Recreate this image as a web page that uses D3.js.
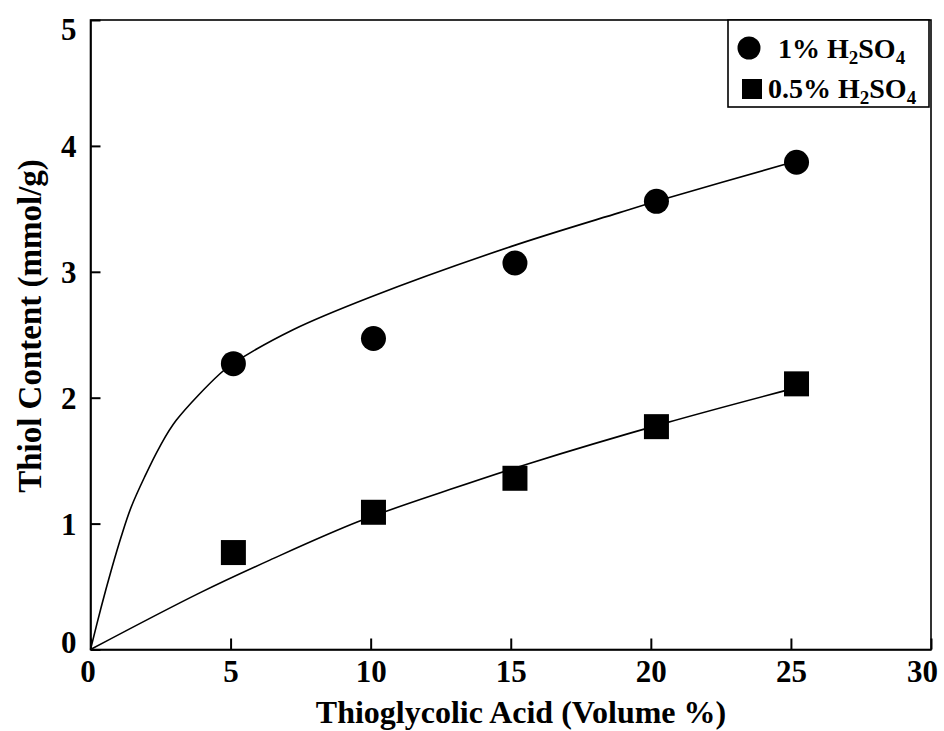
<!DOCTYPE html>
<html>
<head>
<meta charset="utf-8">
<script src="https://cdn.jsdelivr.net/npm/d3@7"></script>
<style>
  body { margin: 0; background: #fff; }
  svg text { font-family: "Liberation Serif", "Times New Roman", serif; font-weight: bold; fill: #000; }
</style>
</head>
<body>
<svg id="chart" width="944" height="731"></svg>
<script>
// measured data
var acidVolume = [5.1, 10.1, 15.15, 20.2, 25.2];
var thiol1 = [2.27, 2.47, 3.07, 3.56, 3.87];     // 1% H2SO4
var thiol05 = [0.77, 1.09, 1.36, 1.77, 2.11];    // 0.5% H2SO4

// fitted curves
var fit1 = [[0, 0], [0.385, 0.34], [0.74, 0.63], [1.1, 0.9], [1.45, 1.13], [1.93, 1.37],
            [2.47, 1.61], [3.06, 1.82], [4.62, 2.19], [5.08, 2.27], [7.23, 2.54],
            [10, 2.8], [15, 3.2], [18.88, 3.47], [20.2, 3.56], [25.2, 3.88]];
var fit05 = [[0, 0], [3.9, 0.45], [6.4, 0.71], [9.61, 1.02], [12.82, 1.27],
             [15.55, 1.47], [20.54, 1.8], [25.2, 2.08]];

var xTicks = [0, 5, 10, 15, 20, 25, 30];
var yTicks = [0, 1, 2, 3, 4, 5];
var legendLabels = [["1% H", "2", "SO", "4"], ["0.5% H", "2", "SO", "4"]];

function drawChart() {
    var svg = d3.select("#chart");
    var pLeft = 90.5, pRight = 931, pTop = 20, pBottom = 649.5;

    var x = d3.scaleLinear().domain([0, 30]).range([pLeft, pRight]);
    var y = d3.scaleLinear().domain([0, 5]).range([pBottom, pTop]);

    // frame
    svg.append("rect")
        .attr("x", pLeft).attr("y", pTop)
        .attr("width", pRight - pLeft).attr("height", pBottom - pTop)
        .attr("fill", "none").attr("stroke", "#000").attr("stroke-width", 1.6);

    // X axis (ticks point inward)
    var gx = svg.append("g")
        .attr("transform", "translate(0," + pBottom + ")")
        .call(d3.axisBottom(x).tickValues(xTicks).tickFormat(d3.format("d"))
            .tickSizeInner(-11).tickSizeOuter(0).tickPadding(10));
    gx.select(".domain").attr("stroke-width", 1.6);
    gx.selectAll(".tick line").attr("stroke-width", 2);
    gx.selectAll(".tick text").style("font-size", "31px")
        .attr("dx", function (d) { return d === 30 ? -9 : (d === 0 ? -3 : 0); });

    // Y axis
    var gy = svg.append("g")
        .attr("transform", "translate(" + pLeft + ",0)")
        .call(d3.axisLeft(y).tickValues(yTicks).tickFormat(d3.format("d"))
            .tickSizeInner(-10).tickSizeOuter(0).tickPadding(14));
    gy.select(".domain").attr("stroke-width", 1.6);
    gy.selectAll(".tick line").attr("stroke-width", 2);
    gy.selectAll(".tick text").style("font-size", "31px")
        .attr("dy", function (d) { return d === 5 ? "0.62em" : (d === 0 ? "0.1em" : "0.35em"); });

    // axis titles
    svg.append("text")
        .attr("x", 521).attr("y", 723)
        .attr("text-anchor", "middle")
        .style("font-size", "32px")
        .text("Thioglycolic Acid (Volume %)");

    svg.append("text")
        .attr("transform", "translate(41,326) rotate(-90)")
        .attr("text-anchor", "middle")
        .style("font-size", "33px")
        .text("Thiol Content (mmol/g)");

    // fit lines
    var line = d3.line()
        .curve(d3.curveCatmullRom.alpha(0.5))
        .x(function (d) { return x(d[0]); })
        .y(function (d) { return y(d[1]); });

    [fit1, fit05].forEach(function (f) {
        svg.append("path")
            .datum(f)
            .attr("fill", "none")
            .attr("stroke", "#000")
            .attr("stroke-width", 1.6)
            .attr("d", line);
    });

    // points
    svg.append("g").selectAll("circle")
        .data(acidVolume)
        .enter()
        .append("circle")
        .attr("cx", function (d) { return x(d); })
        .attr("cy", function (d, i) { return y(thiol1[i]); })
        .attr("r", 12.5)
        .attr("fill", "#000");

    var sq = 25;
    svg.append("g").selectAll("rect")
        .data(acidVolume)
        .enter()
        .append("rect")
        .attr("x", function (d) { return x(d) - sq / 2; })
        .attr("y", function (d, i) { return y(thiol05[i]) - sq / 2; })
        .attr("width", sq).attr("height", sq)
        .attr("fill", "#000");

    // legend
    var lg = svg.append("g");
    lg.append("rect")
        .attr("x", 728).attr("y", pTop)
        .attr("width", 201).attr("height", 87)
        .attr("fill", "#fff").attr("stroke", "#000").attr("stroke-width", 1.6);
    lg.append("circle").attr("cx", 749).attr("cy", 48).attr("r", 11.5).attr("fill", "#000");
    lg.append("rect").attr("x", 742).attr("y", 79).attr("width", 20).attr("height", 20).attr("fill", "#000");

    var legendPos = [[778, 58], [768, 98]];
    legendLabels.forEach(function (parts, i) {
        var t = lg.append("text")
            .attr("x", legendPos[i][0]).attr("y", legendPos[i][1])
            .style("font-size", "28px");
        parts.forEach(function (p, j) {
            var sub = j % 2 === 1;
            t.append("tspan")
                .attr("dy", sub ? 6 : (j === 0 ? 0 : -6))
                .style("font-size", sub ? "19px" : "28px")
                .text(p);
        });
    });
}

drawChart();
</script>
</body>
</html>
